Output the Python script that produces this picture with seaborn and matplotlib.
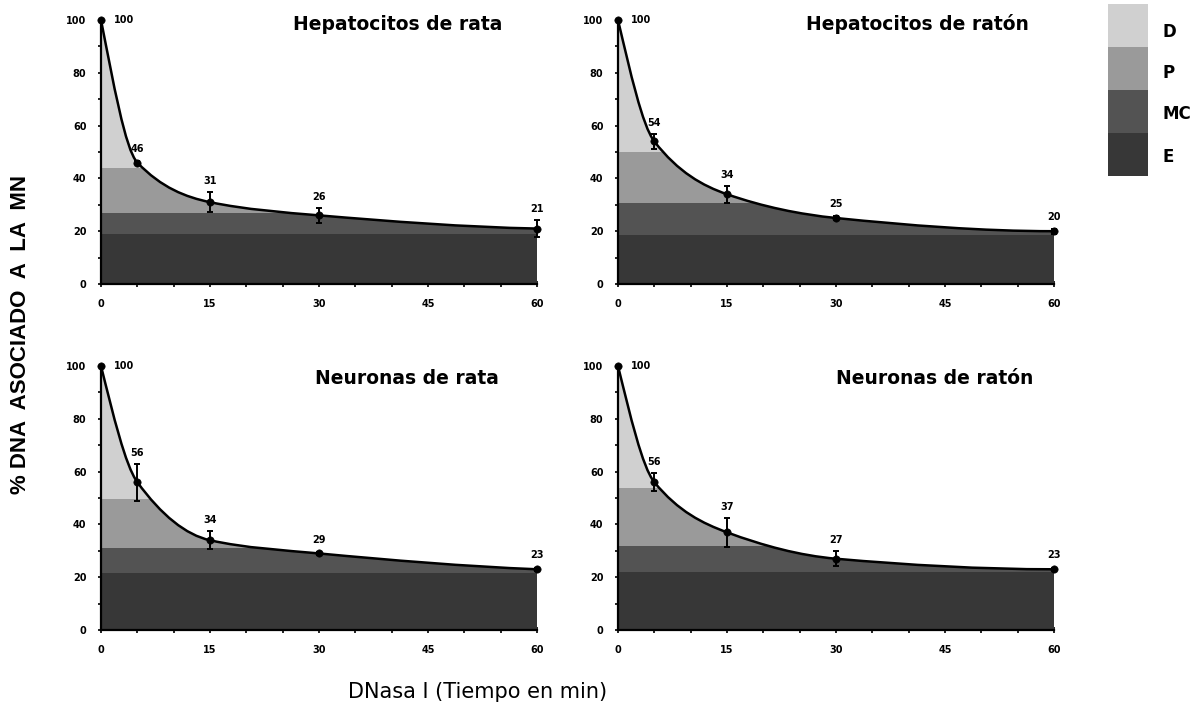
import numpy as np
import matplotlib
matplotlib.use("Agg")
import matplotlib.pyplot as plt
from matplotlib.path import Path
from matplotlib.patches import PathPatch
import seaborn as sns

# ---------------- data ----------------
times = [0, 5, 15, 30, 60]
panel_titles = ["Hepatocitos de rata", "Hepatocitos de ratón",
                "Neuronas de rata", "Neuronas de ratón"]

hep_rata = [100, 46, 31, 26, 21]
hep_rata_err = [0, 0.5, 3.8, 2.8, 3.3]
hep_raton = [100, 54, 34, 25, 20]
hep_raton_err = [0, 2.7, 3.2, 0.8, 1.0]
neu_rata = [100, 56, 34, 29, 23]
neu_rata_err = [0, 7.0, 3.5, 0.6, 0.6]
neu_raton = [100, 56, 37, 27, 23]
neu_raton_err = [0, 3.3, 5.4, 2.8, 0.6]

# upper limits of the E, MC and P fractions (D goes up to the curve)
hep_rata_bands = [19, 27, 44]
hep_raton_bands = [18.6, 30.8, 50]
neu_rata_bands = [21.7, 30.9, 49.6]
neu_raton_bands = [22, 32, 53.7]

fractions = ["D", "P", "MC", "E"]
x_ticks = [0, 15, 30, 45, 60]
y_ticks = [0, 20, 40, 60, 80, 100]

# ---------------- style ----------------
sns.set_theme(style="white")
plt.rcParams["font.family"] = ["DejaVu Sans"]
plt.rcParams["text.color"] = "black"
plt.rcParams["xtick.color"] = "black"
plt.rcParams["ytick.color"] = "black"
plt.rcParams["axes.labelcolor"] = "black"
frac_colors = {"D": "#d0d0d0", "P": "#9a9a9a", "MC": "#535353", "E": "#373737"}

fig = plt.figure(figsize=(12.01, 7.15), dpi=100)
W, H = 1201, 715


def axes_px(x0, x1, ytop, ybot):
    return [x0 / W, 1 - ybot / H, (x1 - x0) / W, (ybot - ytop) / H]


positions = [axes_px(101, 537, 20, 284), axes_px(618, 1054, 20, 284),
             axes_px(101, 537, 366, 630), axes_px(618, 1054, 366, 630)]


def pchip_slopes(x, y):
    x = np.asarray(x, float); y = np.asarray(y, float)
    h = np.diff(x); d = np.diff(y) / h
    n = len(x); m = np.zeros(n)
    for k in range(1, n - 1):
        if d[k - 1] * d[k] > 0:
            w1 = 2 * h[k] + h[k - 1]; w2 = h[k] + 2 * h[k - 1]
            m[k] = (w1 + w2) / (w1 / d[k - 1] + w2 / d[k])
    m[0] = ((2 * h[0] + h[1]) * d[0] - h[0] * d[1]) / (h[0] + h[1])
    if np.sign(m[0]) != np.sign(d[0]):
        m[0] = 0
    m[-1] = ((2 * h[-1] + h[-2]) * d[-1] - h[-1] * d[-2]) / (h[-1] + h[-2])
    if np.sign(m[-1]) != np.sign(d[-1]):
        m[-1] = 0
    return m


def curve_path(x, y, closed=False):
    m = pchip_slopes(x, y)
    verts = [(x[0], y[0])]
    codes = [Path.MOVETO]
    for k in range(len(x) - 1):
        h = x[k + 1] - x[k]
        verts += [(x[k] + h / 3, y[k] + m[k] * h / 3),
                  (x[k + 1] - h / 3, y[k + 1] - m[k + 1] * h / 3),
                  (x[k + 1], y[k + 1])]
        codes += [Path.CURVE4] * 3
    if closed:
        verts += [(x[-1], 0), (x[0], 0), (x[0], y[0])]
        codes += [Path.LINETO, Path.LINETO, Path.CLOSEPOLY]
    return Path(verts, codes)


series = [(hep_rata, hep_rata_err, hep_rata_bands),
          (hep_raton, hep_raton_err, hep_raton_bands),
          (neu_rata, neu_rata_err, neu_rata_bands),
          (neu_raton, neu_raton_err, neu_raton_bands)]
title_x = [398, 917, 407, 935]

for i, (vals, errs, bands) in enumerate(series):
    ax = fig.add_axes(positions[i])
    ax.set_xlim(0, 60)
    ax.set_ylim(0, 100)

    area = PathPatch(curve_path(times, vals, closed=True), transform=ax.transData,
                     facecolor="none", edgecolor="none")
    ax.add_patch(area)
    limits = [0] + list(bands) + [100]
    for lo, hi, name in zip(limits[:-1], limits[1:], ["E", "MC", "P", "D"]):
        span = ax.axhspan(lo, hi, color=frac_colors[name], lw=0, zorder=1)
        span.set_clip_path(area)

    ax.add_patch(PathPatch(curve_path(times, vals), transform=ax.transData,
                           facecolor="none", edgecolor="black", lw=1.8,
                           zorder=3, clip_on=False))
    ax.errorbar(times, vals, yerr=errs, fmt="none", ecolor="black",
                elinewidth=1.4, capsize=2.5, capthick=1.4, zorder=4, clip_on=False)
    sns.scatterplot(x=times, y=vals, ax=ax, color="black", s=28,
                    edgecolor="black", zorder=5, clip_on=False, legend=False)

    for j, (t, v, e) in enumerate(zip(times, vals, errs)):
        if j == 0:
            ax.annotate(f"{v}", (t, v), xytext=(9, 0), textcoords="offset points",
                        ha="left", va="center", fontsize=7, fontweight="bold")
        else:
            off = max(10, (e * 2.64 + 11) * 0.72)
            ax.annotate(f"{v}", (t, v), xytext=(0, off), textcoords="offset points",
                        ha="center", va="center", fontsize=7, fontweight="bold")

    for s in ["top", "right"]:
        ax.spines[s].set_visible(False)
    for s in ["left", "bottom"]:
        ax.spines[s].set_color("black")
        ax.spines[s].set_linewidth(1.6)
    ax.set_xticks(x_ticks)
    ax.set_yticks(y_ticks)
    ax.set_xticks(np.arange(0, 61, 5), minor=True)
    ax.set_yticks(np.arange(0, 101, 10), minor=True)
    ax.tick_params(which="both", direction="inout", color="black", width=1.2,
                   bottom=True, left=True)
    ax.tick_params(which="major", length=5, labelsize=7, pad=8)
    ax.tick_params(which="minor", length=4)
    for lab in ax.get_xticklabels() + ax.get_yticklabels():
        lab.set_fontweight("bold")
    ax.set_facecolor("white")
    ax.grid(False)

    ty = 24 if i < 2 else 378
    fig.text(title_x[i] / W, 1 - ty / H, panel_titles[i], ha="center", va="center",
             fontsize=13.5, fontweight="bold", color="black")

# legend strip
lax = fig.add_axes(axes_px(1108, 1148, 4, 176))
lax.set_xlim(0, 1)
lax.set_ylim(0, 4)
label_y = [3.35, 2.4, 1.45, 0.45]
for k, name in enumerate(fractions):
    lax.axhspan(3 - k, 4 - k, color=frac_colors[name], lw=0)
    lax.text(1.35, label_y[k], name, ha="left", va="center",
             fontsize=12, fontweight="bold", color="black", clip_on=False)
lax.set_xticks([]); lax.set_yticks([])
for s in lax.spines.values():
    s.set_visible(False)

fig.text(21 / W, 1 - 335 / H, "% DNA  ASOCIADO  A  LA  MN", rotation=90,
         ha="center", va="center", fontsize=16, fontweight="bold",
         family="Liberation Sans", color="black")
fig.text(478 / W, 1 - 692 / H, "DNasa I (Tiempo en min)", ha="center", va="center",
         fontsize=15, family="DejaVu Sans", color="black")

fig.savefig("out.png", dpi=100, facecolor="white")
